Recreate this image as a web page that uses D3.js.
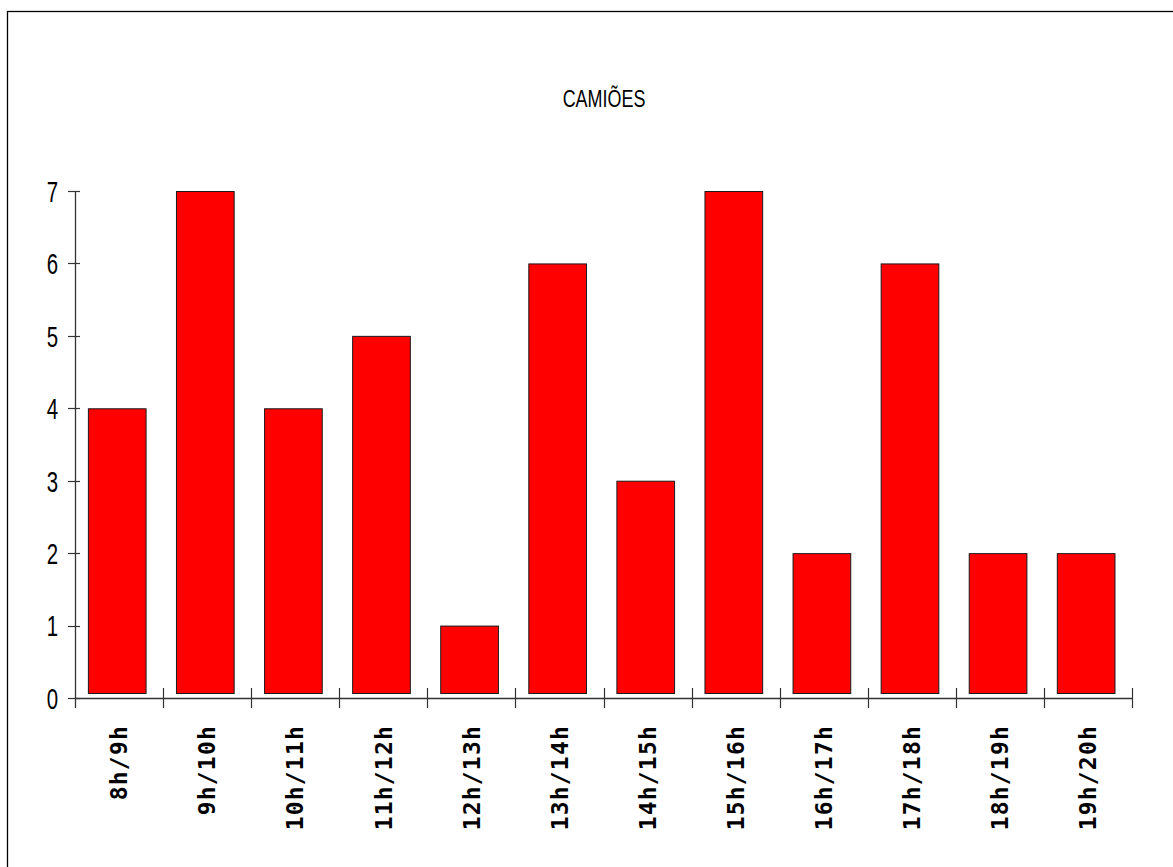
<!DOCTYPE html>
<html>
<head>
<meta charset="utf-8">
<script src="https://cdn.jsdelivr.net/npm/d3@7"></script>
<style>
html,body{margin:0;padding:0;background:#fff;}
svg{display:block;}
</style>
</head>
<body>
<svg id="chart" width="1173" height="867"></svg>
<script>
const title = "CAMIÕES";
const categories = ["8h/9h","9h/10h","10h/11h","11h/12h","12h/13h","13h/14h","14h/15h","15h/16h","16h/17h","17h/18h","18h/19h","19h/20h"];
const values = [4,7,4,5,1,6,3,7,2,6,2,2];
const yTicks = [0,1,2,3,4,5,6,7];

const svg = d3.select("#chart");
const W = 1173, H = 867;
const sansFont = "'Liberation Sans Narrow','Arial Narrow','Liberation Sans',Arial,sans-serif";

// outer frame
svg.append("rect").attr("x",7.5).attr("y",11.5).attr("width",W).attr("height",H)
  .attr("fill","none").attr("stroke","#000").attr("stroke-width",1.3);

const x = d3.scaleBand().domain(categories).range([75,1132]).paddingInner(0).paddingOuter(0);
const y = d3.scaleLinear().domain([0,7]).range([698,191]);

const axisColor = "#333";

// title
svg.append("text").attr("transform","translate(604,107) scale(0.78,1)").attr("text-anchor","middle")
  .attr("font-family",sansFont)
  .attr("font-size",23).attr("fill","#000").text(title);

// bars
const bw = x.bandwidth();
svg.append("g").selectAll("rect").data(values).join("rect")
  .attr("x",(d,i)=>x(categories[i]) + bw*0.152)
  .attr("width",bw*0.655)
  .attr("y",d=>y(d)+0.5)
  .attr("height",d=>y(0)-5 - y(d))
  .attr("fill","#ff0000").attr("stroke","#1a1a1a").attr("stroke-width",1);

// y axis
const yAxis = svg.append("g");
yAxis.append("line").attr("x1",75.5).attr("x2",75.5).attr("y1",y(7)).attr("y2",708)
  .attr("stroke",axisColor).attr("stroke-width",1.3);
yAxis.selectAll(".yt").data(yTicks).join("line").attr("class","yt")
  .attr("x1",68).attr("x2",80).attr("y1",d=>Math.round(y(d))+0.5).attr("y2",d=>Math.round(y(d))+0.5)
  .attr("stroke",axisColor).attr("stroke-width",1.2);
yAxis.selectAll(".yl").data(yTicks).join("text").attr("class","yl")
  .attr("transform",d=>`translate(58,${y(d)}) scale(0.68,1)`)
  .attr("dy","0.36em").attr("text-anchor","end")
  .attr("font-family",sansFont)
  .attr("font-size",30).attr("fill","#000").text(d=>d);

// x axis
const xAxis = svg.append("g");
xAxis.append("line").attr("x1",75).attr("x2",1133).attr("y1",698.5).attr("y2",698.5)
  .attr("stroke",axisColor).attr("stroke-width",1.3);
const bounds = categories.map(c=>x(c)).concat([x.range()[1]]);
xAxis.selectAll(".xt").data(bounds.slice(1)).join("line").attr("class","xt")
  .attr("x1",d=>Math.round(d)+0.5).attr("x2",d=>Math.round(d)+0.5).attr("y1",688).attr("y2",708)
  .attr("stroke",axisColor).attr("stroke-width",1.2);
xAxis.selectAll(".xl").data(categories).join("text").attr("class","xl")
  .attr("transform",c=>`translate(${x(c)+bw/2},725) rotate(-90)`)
  .attr("dy","0.36em").attr("text-anchor","end")
  .attr("font-family","'DejaVu Sans Mono','Liberation Mono',monospace")
  .attr("font-weight","bold").attr("font-size",23).attr("letter-spacing",1.2)
  .attr("fill","#000").text(c=>c);
</script>
</body>
</html>
